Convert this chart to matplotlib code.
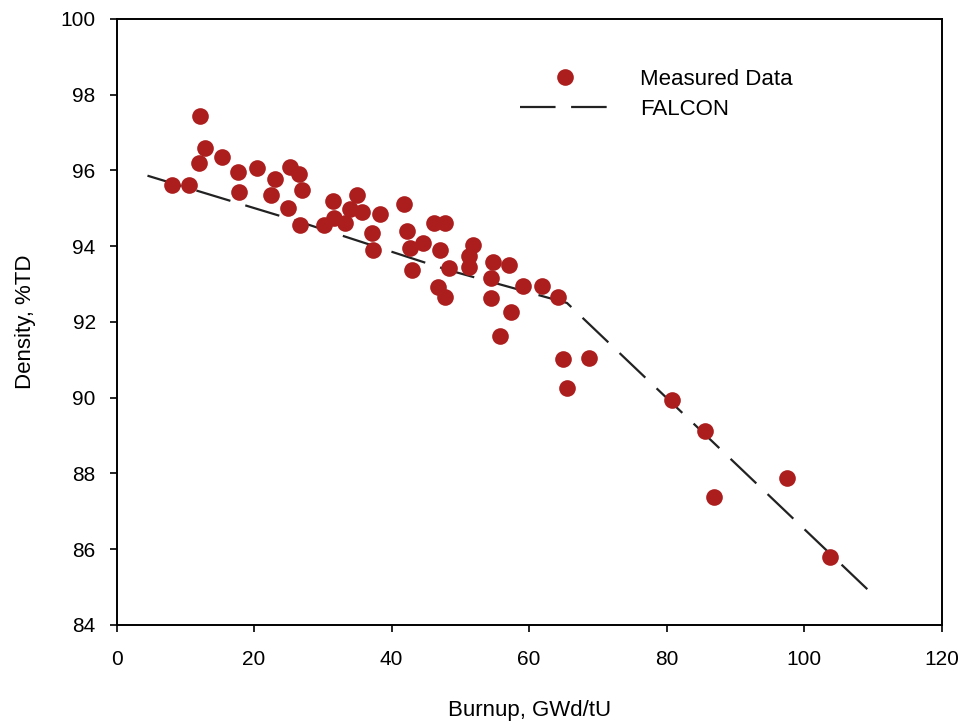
import numpy as np
import matplotlib.pyplot as plt

plt.rcParams['font.family'] = ['Liberation Sans', 'DejaVu Sans']

# measured data (burnup GWd/tU, density %TD)
burnup = [8.0, 10.5, 12.2, 12.8, 12.0, 15.3, 17.6, 17.8, 20.4, 23.1,
          22.4, 25.2, 26.5, 27.0, 24.9, 26.7, 30.2, 31.5, 35.0, 34.0,
          31.6, 33.2, 35.7, 38.3, 37.2, 37.3, 41.8, 42.3, 42.7, 43.0,
          44.6, 46.1, 47.7, 47.0, 48.4, 46.7, 47.7, 51.9, 51.2, 51.2,
          54.8, 57.0, 54.5, 54.4, 57.4, 55.8, 59.1, 61.8, 64.2, 64.9,
          68.7, 65.5, 80.8, 85.6, 86.9, 97.5, 103.7]
density = [95.62, 95.62, 97.44, 96.60, 96.20, 96.34, 95.97, 95.44, 96.05, 95.76,
           95.36, 96.10, 95.90, 95.47, 95.00, 94.55, 94.56, 95.20, 95.36, 94.99,
           94.73, 94.62, 94.89, 94.86, 94.36, 93.91, 95.10, 94.39, 93.94, 93.38,
           94.07, 94.60, 94.60, 93.89, 93.41, 92.91, 92.65, 94.02, 93.75, 93.44,
           93.57, 93.49, 93.15, 92.62, 92.25, 91.62, 92.96, 92.96, 92.67, 91.01,
           91.04, 90.25, 89.93, 89.11, 87.37, 87.88, 85.79]

# FALCON prediction
falcon_x = [4.5, 27.0, 48.0, 65.5, 110.0]
falcon_y = [95.86, 94.62, 93.38, 92.50, 84.80]

fig = plt.figure(figsize=(9.63, 7.25), dpi=100)
ax = fig.add_axes([0.121, 0.138, 0.857, 0.836])

ax.plot(burnup, density, 'o', color='#ac1e1e', markersize=12,
        markeredgewidth=0, label='Measured Data', zorder=3)
ax.plot(falcon_x, falcon_y, color='#222222', lw=1.6,
        dashes=(16, 7), label='FALCON', zorder=2)

ax.set_xlim(0, 120)
ax.set_ylim(84, 100)
ax.set_xticks(np.arange(0, 121, 20))
ax.set_yticks(np.arange(84, 101, 2))
ax.tick_params(direction='out', length=5, width=1.2, labelsize=15,
               top=False, right=False)
ax.tick_params(axis='x', pad=13)
ax.tick_params(axis='y', pad=10)
for s in ax.spines.values():
    s.set_linewidth(1.4)

ax.set_xlabel('Burnup, GWd/tU', fontsize=16, labelpad=22)
ax.set_ylabel('Density, %TD', fontsize=16, labelpad=18)

leg = ax.legend(loc='upper left', bbox_to_anchor=(0.465, 0.95), frameon=False,
                fontsize=16, handlelength=4.0, handletextpad=1.4,
                labelspacing=0.4, numpoints=1, borderpad=0.4)

fig.savefig('out.png', dpi=100)
